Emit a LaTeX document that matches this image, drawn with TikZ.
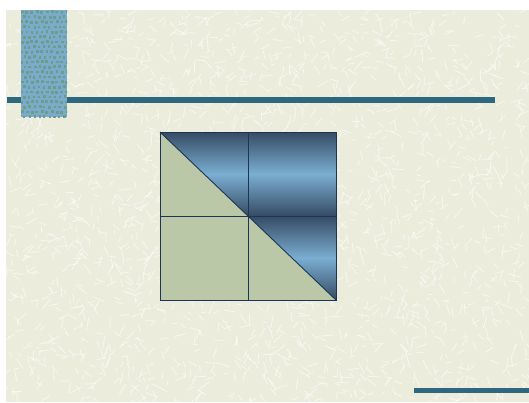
\documentclass[tikz,border=0pt]{standalone}
\usepackage{tikz}
\definecolor{bgc}{HTML}{ECECDD}
\definecolor{barc}{HTML}{2D687E}
\definecolor{boxc}{HTML}{79ABCB}
\definecolor{dotc}{HTML}{6E9C8C}
\definecolor{dk}{HTML}{354B63}
\definecolor{lt}{HTML}{7BAED2}
\definecolor{grn}{HTML}{BAC8A8}
\definecolor{navy}{HTML}{1B3556}
\tikzset{
  bar/.style={fill=barc,draw=none},
  gridline/.style={draw=navy,line width=0.9pt},
  bluegrad/.style={top color=dk,bottom color=dk,middle color=lt},
}
\begin{document}
\begin{tikzpicture}[x=1pt,y=-1pt]
\useasboundingbox (0,0) rectangle (529,402);
\fill[white] (0,0) rectangle (529,402);
\fill[bgc] (6,10) rectangle (529,402);
% texture
\pgfmathsetseed{7}
\begin{scope}
\clip (6,10) rectangle (529,402);
\foreach \i in {1,...,2200}{
  \pgfmathsetmacro{\px}{6+523*rnd}
  \pgfmathsetmacro{\py}{10+392*rnd}
  \pgfmathsetmacro{\an}{360*rnd}
  \pgfmathsetmacro{\ln}{4+8*rnd}
  \draw[white,opacity=0.6,line width=0.8pt] (\px,\py) -- ++(\an:\ln);
}
\end{scope}
% bars
\fill[bar] (7,97) rectangle (495,102.5);
\fill[bar] (414,388) rectangle (529,393);
% dotted box
\fill[boxc] (21,10) rectangle (67,117);
\begin{scope}
\clip (21,10) rectangle (67,117);
\foreach \r in {0,...,21}{
  \foreach \c in {0,...,9}{
    \pgfmathsetmacro{\ox}{20+\c*5+mod(\r,2)*2.5+1.5*rnd}
    \pgfmathsetmacro{\oy}{10+\r*5+1.5*rnd}
    \fill[dotc] (\ox,\oy) rectangle ++(2.6,2.6);
  }
}
\end{scope}
% square
\coordinate (A) at (160,132);
\coordinate (B) at (248,132);
\coordinate (C) at (336,132);
\coordinate (D) at (160,216);
\coordinate (E) at (248,216);
\coordinate (F) at (336,216);
\coordinate (G) at (160,300);
\coordinate (H) at (248,300);
\coordinate (K) at (336,300);
\fill[grn] (A) rectangle (K);
\begin{scope}
\clip (A) -- (B) -- (E) -- cycle;
\shade[bluegrad] (A) rectangle (E);
\end{scope}
\shade[bluegrad] (B) rectangle (F);
\begin{scope}
\clip (E) -- (F) -- (K) -- cycle;
\shade[bluegrad] (E) rectangle (K);
\end{scope}
\draw[gridline] (A) rectangle (K);
\draw[gridline] (B) -- (H);
\draw[gridline] (D) -- (F);
\draw[gridline] (A) -- (E) -- (K);
\end{tikzpicture}
\end{document}
